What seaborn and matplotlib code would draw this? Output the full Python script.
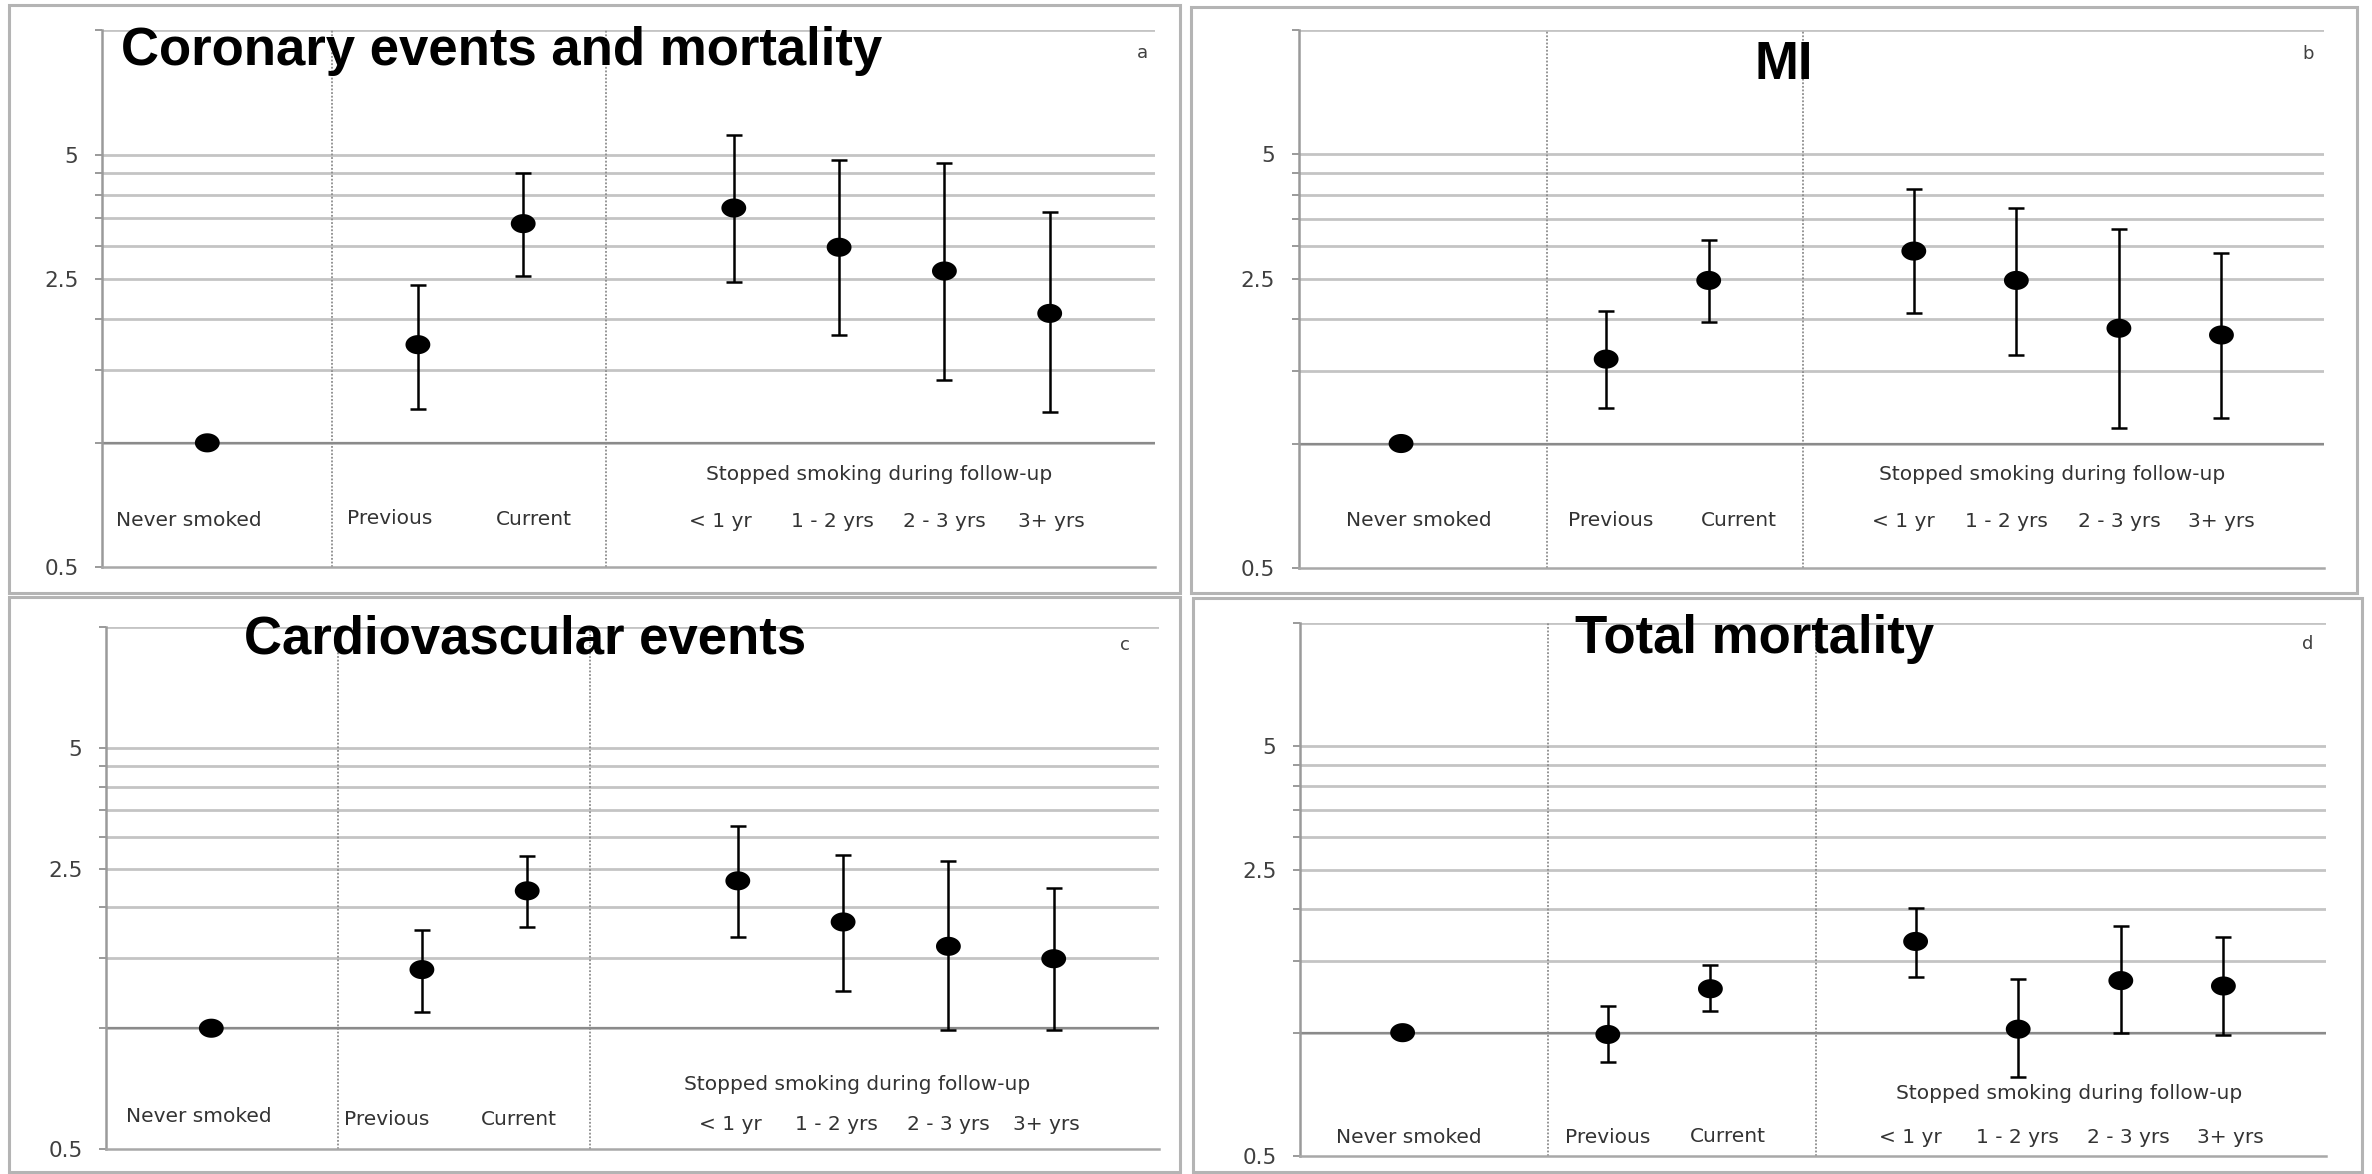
import numpy as np
import pandas as pd
import matplotlib
matplotlib.use("Agg")
import matplotlib.pyplot as plt
from matplotlib.path import Path
from matplotlib.patches import Rectangle
from matplotlib.ticker import FixedLocator, FixedFormatter, NullLocator
import seaborn as sns

# ---- data: hazard ratios with 95% CI by smoking status ----
categories = ["Never smoked", "Previous", "Current", "< 1 yr", "1 - 2 yrs", "2 - 3 yrs", "3+ yrs"]
cat_pos = [0, 2, 3, 5, 6, 7, 8]

coronary_hr = [1.00, 1.73, 3.40, 3.71, 2.98, 2.61, 2.06]
coronary_lo = [np.nan, 1.21, 2.54, 2.45, 1.83, 1.42, 1.19]
coronary_hi = [np.nan, 2.42, 4.52, 5.59, 4.86, 4.78, 3.62]

mi_hr = [1.00, 1.60, 2.48, 2.92, 2.48, 1.90, 1.83]
mi_lo = [np.nan, 1.22, 1.97, 2.07, 1.64, 1.09, 1.15]
mi_hi = [np.nan, 2.09, 3.11, 4.12, 3.72, 3.30, 2.89]

cvd_hr = [1.00, 1.40, 2.20, 2.33, 1.84, 1.60, 1.49]
cvd_lo = [np.nan, 1.10, 1.79, 1.69, 1.24, 0.99, 0.99]
cvd_hi = [np.nan, 1.76, 2.68, 3.19, 2.70, 2.61, 2.24]

mort_hr = [1.00, 0.99, 1.28, 1.67, 1.02, 1.34, 1.30]
mort_lo = [np.nan, 0.85, 1.13, 1.37, 0.78, 1.00, 0.985]
mort_hi = [np.nan, 1.16, 1.46, 2.02, 1.35, 1.82, 1.71]

titles = ["Coronary events and mortality", "MI", "Cardiovascular events", "Total mortality"]
letters = ["a", "b", "c", "d"]
stopped_label = "Stopped smoking during follow-up"

grid_values = [0.5, 1, 1.5, 2, 2.5, 3, 3.5, 4, 4.5, 5, 10]
labelled_ticks = {0.5: "0.5", 2.5: "2.5", 5: "5"}

# ---- layout (figure pixels 2372 x 1174) ----
W, H = 2372, 1174
panels = [
    dict(hr=coronary_hr, lo=coronary_lo, hi=coronary_hi,
         axes=(102, 30.4, 1155, 567), box=(9, 4.5, 1180, 593),
         dividers=(1.18, 3.79),
         title_xy=(121, 64.5), title_ha="left", letter_xy=(1142, 53),
         lab_x=[-0.18, 1.73, 3.10, 4.87, 5.94, 7.00, 8.02],
         lab_y=[0.086, 0.091, 0.088, 0.084, 0.084, 0.084, 0.084],
         stop_xy=(6.38, 0.173)),
    dict(hr=mi_hr, lo=mi_lo, hi=mi_hi,
         axes=(1298.5, 30, 2324, 568), box=(1191, 7, 2357, 593),
         dividers=(1.42, 3.92),
         title_xy=(1784, 79), title_ha="center", letter_xy=(2308, 54),
         lab_x=[0.17, 2.04, 3.29, 4.90, 5.90, 7.00, 8.00],
         lab_y=[0.089, 0.089, 0.089, 0.086, 0.086, 0.086, 0.086],
         stop_xy=(6.35, 0.173)),
    dict(hr=cvd_hr, lo=cvd_lo, hi=cvd_hi,
         axes=(106, 627, 1159, 1149), box=(9, 597, 1180, 1172),
         dividers=(1.20, 3.60),
         title_xy=(244, 653), title_ha="left", letter_xy=(1125, 645),
         lab_x=[-0.12, 1.67, 2.92, 4.93, 5.94, 7.00, 7.93],
         lab_y=[0.062, 0.056, 0.056, 0.046, 0.046, 0.046, 0.046],
         stop_xy=(6.13, 0.123)),
    dict(hr=mort_hr, lo=mort_lo, hi=mort_hi,
         axes=(1300, 623, 2326, 1156), box=(1193, 598, 2362, 1172),
         dividers=(1.42, 4.03),
         title_xy=(1575, 653), title_ha="left", letter_xy=(2308, 644),
         lab_x=[0.06, 2.00, 3.17, 4.95, 5.99, 7.07, 8.07],
         lab_y=[0.035, 0.035, 0.0375, 0.035, 0.035, 0.035, 0.035],
         stop_xy=(6.50, 0.117)),
]

sns.set_theme(style="white")
plt.rcParams["font.family"] = ["DejaVu Sans"]

fig = plt.figure(figsize=(W / 100, H / 100), dpi=100)
fig.patch.set_facecolor("white")

# marker: slightly wide ellipse
theta = np.linspace(0, 2 * np.pi, 72)
ellipse = Path(np.column_stack([1.3 * np.cos(theta), np.sin(theta)]), closed=True)

GRID = "#c4c4c4"
TEXT = "#333333"


def fx(px):
    return px / W


def fy(py):
    return 1 - py / H


for i, p in enumerate(panels):
    x0, y0, x1, y1 = p["axes"]
    ax = fig.add_axes([fx(x0), fy(y1), fx(x1) - fx(x0), (y1 - y0) / H])
    ax.set_facecolor("none")

    df = pd.DataFrame({"category": categories, "x": cat_pos,
                       "hr": p["hr"], "lo": p["lo"], "hi": p["hi"]})

    ax.set_yscale("log")
    ax.set_ylim(0.5, 10)
    ax.set_xlim(-1, 9)

    # horizontal reference lines
    for v in grid_values[1:]:
        ax.axhline(v, color=GRID, lw=2.0, zorder=1)
    ax.axhline(1, color="#8a8a8a", lw=1.6, zorder=2)

    # dotted group separators
    for d in p["dividers"]:
        ax.axvline(d, color="#8c8c8c", lw=1.3, ls=(0, (1, 1)), zorder=1)

    # confidence intervals
    ci = df.dropna(subset=["lo", "hi"])
    ax.errorbar(ci["x"], ci["hr"],
                yerr=[ci["hr"] - ci["lo"], ci["hi"] - ci["hr"]],
                fmt="none", ecolor="black", elinewidth=1.8,
                capsize=5.5, capthick=1.8, zorder=3)

    # point estimates
    sns.scatterplot(data=df, x="x", y="hr", ax=ax, marker=ellipse, s=320,
                    color="black", edgecolor="none", linewidth=0, zorder=4,
                    legend=False)

    # axes styling
    for side in ("top", "right"):
        ax.spines[side].set_visible(False)
    ax.spines["left"].set_color("#9a9a9a")
    ax.spines["left"].set_linewidth(1.8)
    ax.spines["bottom"].set_color("#a8a8a8")
    ax.spines["bottom"].set_linewidth(1.8)
    ax.set_xticks([])
    ax.set_xlabel("")
    ax.set_ylabel("")
    ax.yaxis.set_major_locator(FixedLocator(grid_values))
    ax.yaxis.set_major_formatter(FixedFormatter([labelled_ticks.get(v, "") for v in grid_values]))
    ax.yaxis.set_minor_locator(NullLocator())
    ax.tick_params(axis="y", which="major", left=True, length=5, width=1.4,
                   color="#9a9a9a", pad=12, labelsize=15.5, labelcolor="#404040")

    # category labels
    for name, lx, ly in zip(categories, p["lab_x"], p["lab_y"]):
        ax.text(lx, ly, name, transform=ax.get_xaxis_transform(), ha="center",
                va="center", fontsize=14.5, color=TEXT)
    sx, sy = p["stop_xy"]
    ax.text(sx, sy, stopped_label, transform=ax.get_xaxis_transform(),
            ha="center", va="center", fontsize=14.5, color=TEXT)

    # panel title and letter
    tx, ty = p["title_xy"]
    fig.text(fx(tx), fy(ty), titles[i], ha=p["title_ha"], va="baseline",
             fontsize=38, fontweight="bold", family=["Liberation Sans", "DejaVu Sans"],
             color="black")
    lx, ly = p["letter_xy"]
    fig.text(fx(lx), fy(ly), letters[i], ha="center", va="center",
             fontsize=13, color="#404040")

    # panel frame
    bx0, by0, bx1, by1 = p["box"]
    fig.patches.append(Rectangle((fx(bx0), fy(by1)), fx(bx1) - fx(bx0), (by1 - by0) / H,
                                 transform=fig.transFigure, fill=False,
                                 edgecolor="#b4b4b4", lw=2.2, zorder=0))

fig.savefig("out.png", dpi=100, facecolor="white")
